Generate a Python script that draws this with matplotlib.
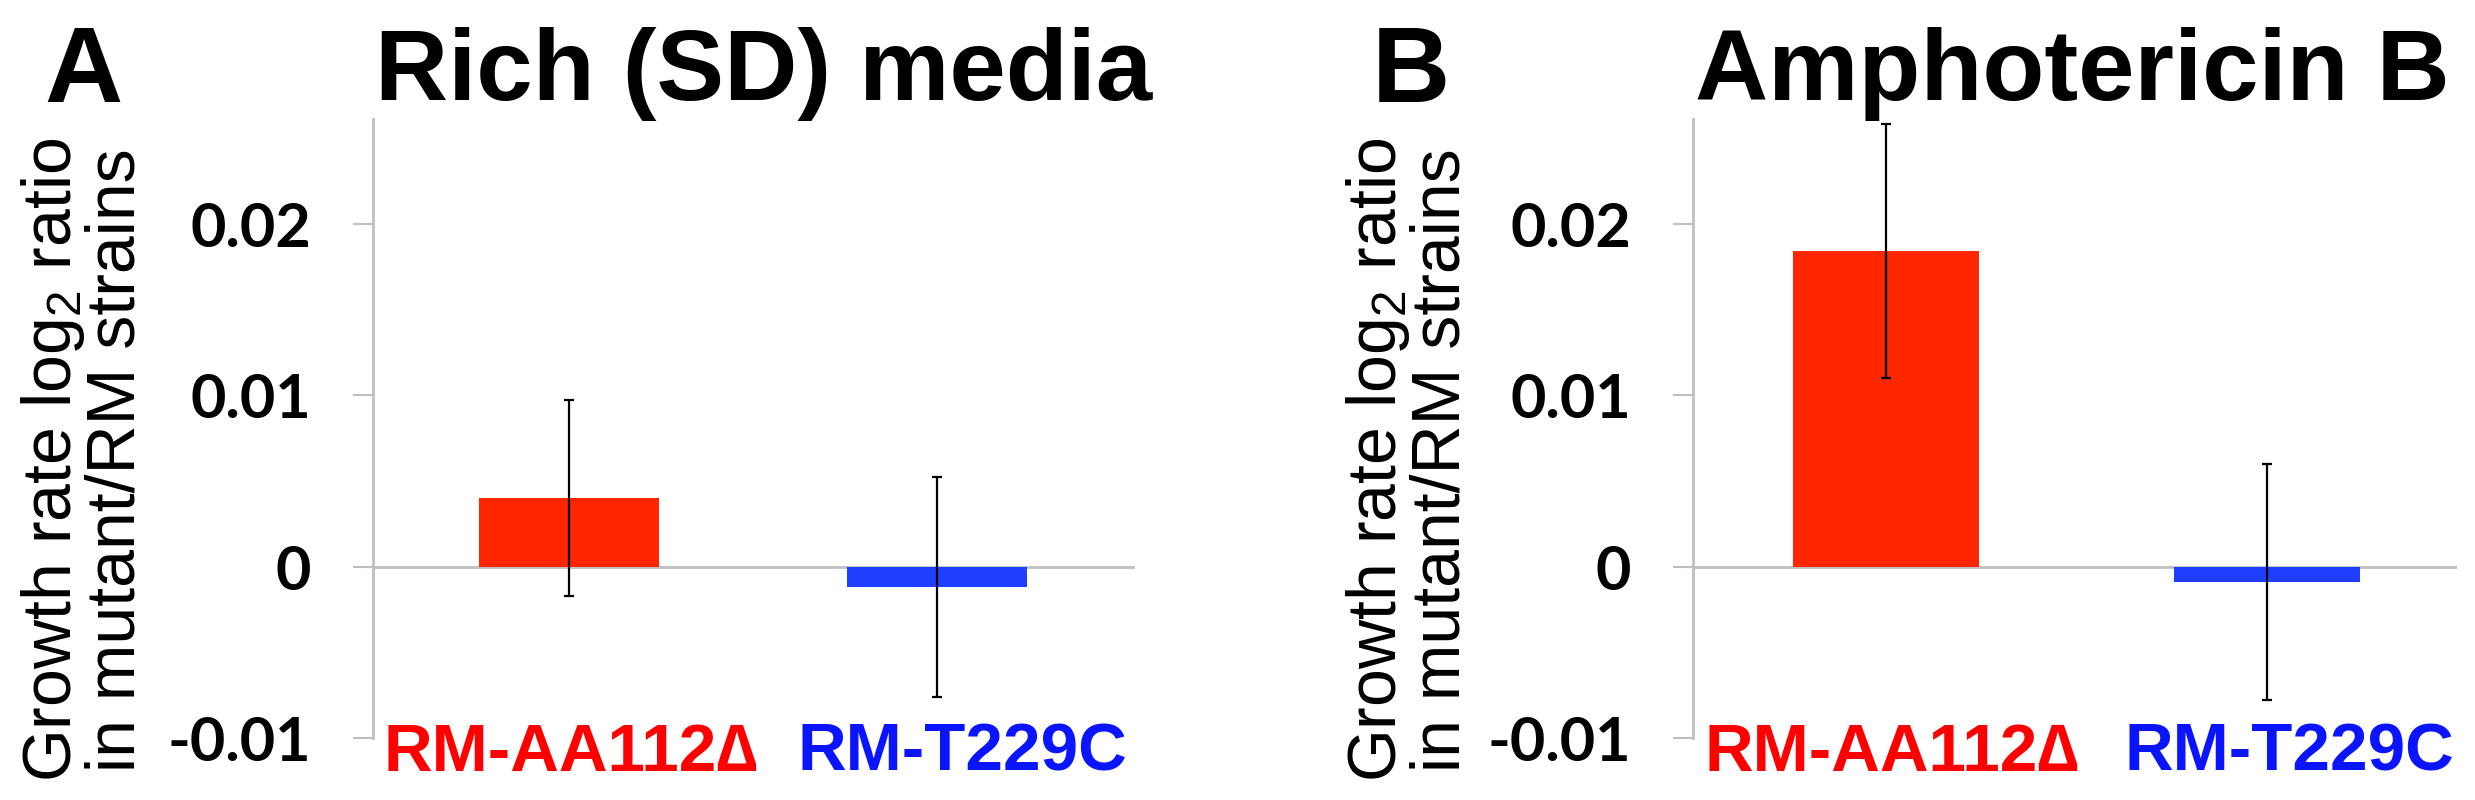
import matplotlib
matplotlib.use("Agg")
import matplotlib.pyplot as plt
import matplotlib.transforms as mtransforms

plt.rcParams['font.family'] = ['Liberation Sans', 'DejaVu Sans']
plt.rcParams['mathtext.fontset'] = 'custom'
plt.rcParams['mathtext.rm'] = 'Liberation Sans'
plt.rcParams['mathtext.it'] = 'Liberation Sans:italic'
plt.rcParams['mathtext.bf'] = 'Liberation Sans:bold'

# ---- data ----
strains = ["RM-AA112\u2206", "RM-T229C"]
panel_titles = ["Rich (SD) media", "Amphotericin B"]
panel_letters = ["A", "B"]
rich_values = [0.0040, -0.0012]
rich_errors = [0.0057, 0.0064]
ampho_values = [0.0184, -0.0009]
ampho_errors = [0.0074, 0.0069]
yticks = [-0.01, 0, 0.01, 0.02]
ytick_labels = ["-0.01", "0", "0.01", "0.02"]
ylabel = "Growth rate log$_2$ ratio\nin mutant/RM strains"

bar_colors = ["#FF2600", "#1E3FFF"]
label_colors = ["#FF0000", "#0A14FF"]
grey = "#BFBFBF"

W, H = 2475, 800
DPI = 100
fig = plt.figure(figsize=(W / DPI, H / DPI), dpi=DPI)

axes_px = [(373, 1135), (1693, 2457)]
xlims = [(-0.534, 1.54), (-0.507, 1.499)]
top_px, bot_px = 119, 738
title_cx = [764, 2072]
letter_x = [44, 1372]
ylabel_cx = [84, 1409]
label_dx_px = [[2, 26], [6, 22]]   # small horizontal nudges of category labels

datasets = [(rich_values, rich_errors), (ampho_values, ampho_errors)]

for i in range(2):
    l, r = axes_px[i]
    ax = fig.add_axes([l / W, 1 - bot_px / H, (r - l) / W, (bot_px - top_px) / H])
    vals, errs = datasets[i]
    x = list(range(len(strains)))
    ax.bar(x, vals, width=0.49, color=bar_colors, zorder=3)
    ax.errorbar(x, vals, yerr=errs, fmt='none', ecolor='black', elinewidth=1.6,
                capsize=3.5, capthick=1.6, zorder=4)
    ax.axhline(0, color=grey, lw=2, zorder=2)
    ax.set_xlim(*xlims[i])
    ax.set_ylim(-0.01, 0.0261)
    for s in ['top', 'right', 'bottom']:
        ax.spines[s].set_visible(False)
    ax.spines['left'].set_color(grey)
    ax.spines['left'].set_linewidth(2)
    ax.set_yticks(yticks)
    ax.set_yticklabels(ytick_labels, fontsize=44, fontweight='bold',
                       family=['Lato', 'Liberation Sans'])
    ax.tick_params(axis='y', length=14.4, width=1.5, color=grey, pad=30)
    ax.set_xticks([])
    # category labels just under the plot area
    y_text = -0.01 - 33 / 171.5 * 0.01
    for xi, name, c, dx in zip(x, strains, label_colors, label_dx_px[i]):
        tr = ax.transData + mtransforms.ScaledTranslation(dx / DPI, 0, fig.dpi_scale_trans)
        ax.text(xi, y_text, name, fontsize=48.5, fontweight='bold', color=c,
                ha='center', va='baseline', clip_on=False, transform=tr)

    fig.text(title_cx[i] / W, 1 - 100 / H, panel_titles[i], fontsize=73,
             fontweight='bold', ha='center', va='baseline')
    fig.text(letter_x[i] / W, 1 - 102 / H, panel_letters[i], fontsize=78,
             fontweight='bold', ha='left', va='baseline')
    fig.text(ylabel_cx[i] / W, 1 - 460 / H, ylabel, fontsize=49, rotation=90,
             ha='center', va='center', multialignment='center', linespacing=0.95)

fig.savefig("out.png", dpi=DPI)
